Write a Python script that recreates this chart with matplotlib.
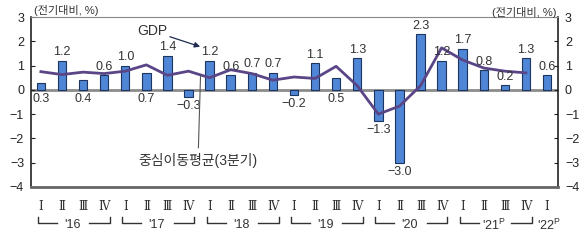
import matplotlib
matplotlib.use('Agg')
import matplotlib.pyplot as plt
import numpy as np

plt.rcParams['font.family'] = ['Liberation Sans', 'Noto Sans CJK KR', 'DejaVu Sans']

# 분기별 GDP 성장률 (전기대비, %)
quarters = ["Ⅰ", "Ⅱ", "Ⅲ", "Ⅳ"] * 6 + ["Ⅰ"]
years = ["'16", "'17", "'18", "'19", "'20", "'21$^{\\mathregular{P}}$", "'22$^{\\mathregular{P}}$"]
gdp = [0.3, 1.2, 0.4, 0.6,
       1.0, 0.7, 1.4, -0.3,
       1.2, 0.6, 0.7, 0.7,
       -0.2, 1.1, 0.5, 1.3,
       -1.3, -3.0, 2.3, 1.2,
       1.7, 0.8, 0.2, 1.3,
       0.6]
# 중심이동평균(3분기), '16.1/4 ~ '21.4/4
ma3 = [0.75, 0.63, 0.73, 0.67,
       0.77, 1.03, 0.60, 0.77,
       0.50, 0.83, 0.67, 0.40,
       0.53, 0.47, 0.97, 0.17,
       -1.00, -0.67, 0.17, 1.73,
       1.23, 0.90, 0.77, 0.70]
# 라벨을 0선 아래에 둘 막대
label_below = [True, False, True, False,
               False, True, False, True,
               False, False, False, False,
               True, False, True, False,
               True, True, False, False,
               False, False, False, False,
               False]

txt = '#333333'
fig = plt.figure(figsize=(5.88, 2.4), dpi=100)
ax = fig.add_axes([0.0527, 0.221, 0.8963, 0.708])

x = np.arange(len(gdp))
ax.bar(x, gdp, width=0.4, color='#4F86D6', edgecolor='#1E3560', linewidth=0.8, zorder=2)
ax.axhline(0, color='#8C8C8C', linewidth=2, zorder=1)
ax.plot(np.arange(len(ma3)), ma3, color='#5A4587', linewidth=2, zorder=3)

for i, v in enumerate(gdp):
    s = f"{v:.1f}".replace("-", "\u2212")
    if label_below[i]:
        y = min(v, 0) - 0.12
        ax.text(i, y, s, ha='center', va='top', fontsize=9, color=txt)
    else:
        ax.text(i, v + 0.1, s, ha='center', va='bottom', fontsize=9, color=txt)

ax.set_xlim(-0.47, 24.52)
ax.set_ylim(-4, 3)
ax.set_yticks(range(-4, 4))
ax.set_yticklabels([str(t).replace("-", "\u2212") for t in range(-4, 4)])
ax.tick_params(axis='y', direction='in', length=3, labelsize=9, colors='#222222',
               right=True, labelright=True, pad=5)
ax.set_xticks([])

for sp in ['left', 'right']:
    ax.spines[sp].set_color('#222222')
    ax.spines[sp].set_linewidth(1.2)
ax.spines['top'].set_color('#888888')
ax.spines['top'].set_linewidth(0.8)
ax.spines['bottom'].set_color('#666666')
ax.spines['bottom'].set_linewidth(2)

# x축 분기/연도 표시
for i, q in enumerate(quarters):
    ax.text(i, -4.82, q, ha='center', va='center', fontsize=8.5, color=txt,
            family=['DejaVu Serif'], clip_on=False)
for k, yr in enumerate(years):
    c = 4 * k + 1.5 if k < 6 else 24.1
    ax.text(c, -5.57, yr, ha='center', va='center', fontsize=9, color=txt, clip_on=False)
    if k < 6:
        l, r = 4 * k - 0.14, 4 * k + 3.27
        ax.plot([l, l, c - 0.74], [-5.22, -5.5, -5.5], color='#333333', lw=1, clip_on=False)
        ax.plot([c + 0.8, r, r], [-5.5, -5.5, -5.22], color='#333333', lw=1, clip_on=False)

# 단위
fig.text(0.057, 0.955, "(전기대비, %)", ha='left', va='center', fontsize=8, color=txt)
fig.text(0.946, 0.948, "(전기대비, %)", ha='right', va='center', fontsize=8, color=txt)

# 주석
ax.annotate("GDP", xy=(7.55, 1.78), xytext=(5.27, 2.43), ha='center', va='center',
            fontsize=10, color=txt,
            arrowprops=dict(arrowstyle='-|>', color='#1E2A50', lw=0.9, mutation_scale=8,
                            shrinkA=0, shrinkB=0))
ax.annotate("중심이동평균(3분기)", xy=(7.57, 0.6), xytext=(7.45, -2.93), ha='center', va='center',
            fontsize=10, color=txt,
            arrowprops=dict(arrowstyle='-', color='#555555', lw=0.8, shrinkA=2, shrinkB=0))

fig.savefig('out.png', dpi=100)
